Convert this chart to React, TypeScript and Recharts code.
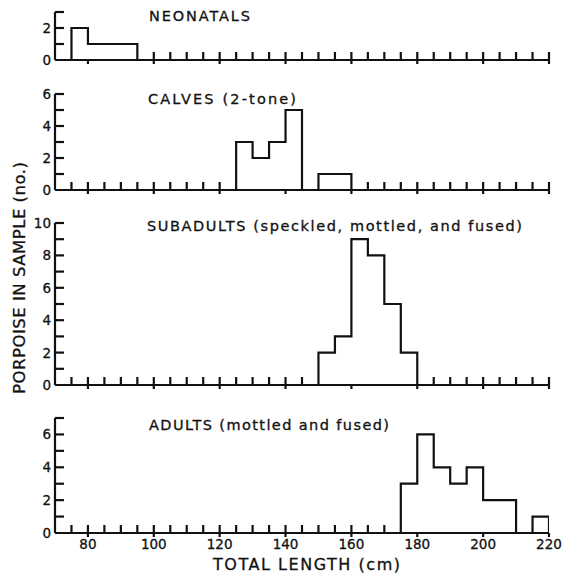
import React from "react";
import { ComposedChart, Line, XAxis, YAxis } from "recharts";

// bin edges (cm), 5 cm classes from 70 to 220
const LENGTH_EDGES = [
  70, 75, 80, 85, 90, 95, 100, 105, 110, 115, 120, 125, 130, 135, 140, 145,
  150, 155, 160, 165, 170, 175, 180, 185, 190, 195, 200, 205, 210, 215, 220,
];
const X_TICKS = [
  75, 80, 85, 90, 95, 100, 105, 110, 115, 120, 125, 130, 135, 140, 145, 150,
  155, 160, 165, 170, 175, 180, 185, 190, 195, 200, 205, 210, 215, 220,
];

// counts per 5 cm class (70-75, 75-80, ... 215-220)
const NEONATALS = [
  0, 2, 1, 1, 1, 0, 0, 0, 0, 0, 0, 0, 0, 0, 0, 0, 0, 0, 0, 0, 0, 0, 0, 0, 0,
  0, 0, 0, 0, 0,
];
const CALVES = [
  0, 0, 0, 0, 0, 0, 0, 0, 0, 0, 0, 3, 2, 3, 5, 0, 1, 1, 0, 0, 0, 0, 0, 0, 0,
  0, 0, 0, 0, 0,
];
const SUBADULTS = [
  0, 0, 0, 0, 0, 0, 0, 0, 0, 0, 0, 0, 0, 0, 0, 0, 2, 3, 9, 8, 5, 2, 0, 0, 0,
  0, 0, 0, 0, 0,
];
const ADULTS = [
  0, 0, 0, 0, 0, 0, 0, 0, 0, 0, 0, 0, 0, 0, 0, 0, 0, 0, 0, 0, 0, 3, 6, 4, 3,
  4, 2, 2, 0, 1,
];

const NEONATAL_Y = [0, 1, 2, 3];
const CALF_Y = [0, 1, 2, 3, 4, 5, 6];
const SUBADULT_Y = [0, 1, 2, 3, 4, 5, 6, 7, 8, 9, 10];
const ADULT_Y = [0, 1, 2, 3, 4, 5, 6, 7];

const INK = "#111";
const FONT = "DejaVu Sans, sans-serif";
const SW = 2.2;

function XTick(props: any) {
  const { x, y, payload, counts, showLabels } = props;
  const v = payload.value as number;
  const idx = (v - 70) / 5;
  const covered = (counts[idx - 1] || 0) > 0 || (counts[idx] || 0) > 0;
  const major = v % 20 === 0;
  return (
    <g>
      {!covered && (
        <line x1={x} x2={x} y1={y} y2={y - 8} stroke={INK} strokeWidth={SW} />
      )}
      {major && (
        <line x1={x} x2={x} y1={y} y2={y + 4} stroke={INK} strokeWidth={SW} />
      )}
      {showLabels && major && (
        <text
          x={x}
          y={y + 16}
          textAnchor="middle"
          fontFamily={FONT}
          fontSize={13.5}
          fill={INK}
          stroke={INK}
          strokeWidth={0.3}
        >
          {v}
        </text>
      )}
    </g>
  );
}

function YTick(props: any) {
  const { x, y, payload } = props;
  const v = payload.value as number;
  return (
    <g>
      {v > 0 && (
        <line x1={x} x2={x + 9} y1={y} y2={y} stroke={INK} strokeWidth={SW} />
      )}
      {v % 2 === 0 && (
        <text
          x={x - 4}
          y={y + 5}
          textAnchor="end"
          fontFamily={FONT}
          fontSize={13.5}
          fill={INK}
          stroke={INK}
          strokeWidth={0.3}
        >
          {v}
        </text>
      )}
    </g>
  );
}

function Panel({
  counts,
  yMax,
  yTicks,
  plotTop,
  zero,
  showLabels,
}: {
  counts: number[];
  yMax: number;
  yTicks: number[];
  plotTop: number;
  zero: number;
  showLabels?: boolean;
}) {
  const data = LENGTH_EDGES.map((x, i) => ({
    x,
    n: i < counts.length ? counts[i] : 0,
  }));
  const marginTop = 10;
  const axisH = showLabels ? 26 : 12;
  const height = zero - plotTop + marginTop + axisH;
  return (
    <div style={{ position: "absolute", left: 0, top: plotTop - marginTop }}>
      <ComposedChart
        width={564}
        height={height}
        data={data}
        margin={{ top: marginTop, right: 15, bottom: 0, left: 0 }}
      >
        <XAxis
          dataKey="x"
          type="number"
          domain={[70, 220]}
          ticks={X_TICKS}
          interval={0}
          height={axisH}
          tickSize={0}
          tickMargin={0}
          tickLine={false}
          axisLine={{ stroke: INK, strokeWidth: SW }}
          tick={(p: any) => (
            <XTick {...p} counts={counts} showLabels={showLabels} />
          )}
          allowDataOverflow
        />
        <YAxis
          type="number"
          domain={[0, yMax]}
          ticks={yTicks}
          interval={0}
          width={55}
          tickSize={0}
          tickMargin={0}
          tickLine={false}
          axisLine={{ stroke: INK, strokeWidth: SW }}
          tick={(p: any) => <YTick {...p} />}
          allowDataOverflow
        />
        <Line
          type="stepAfter"
          dataKey="n"
          stroke={INK}
          strokeWidth={SW}
          dot={false}
          isAnimationActive={false}
        />
      </ComposedChart>
    </div>
  );
}

export default function App() {
  return (
    <div
      style={{
        position: "absolute",
        left: 0,
        top: 0,
        width: 564,
        height: 574,
        background: "#fff",
      }}
    >
      <Panel counts={NEONATALS} yMax={3} yTicks={NEONATAL_Y} plotTop={12} zero={60} />
      <Panel counts={CALVES} yMax={6} yTicks={CALF_Y} plotTop={94} zero={190} />
      <Panel counts={SUBADULTS} yMax={10} yTicks={SUBADULT_Y} plotTop={223} zero={385} />
      <Panel counts={ADULTS} yMax={7} yTicks={ADULT_Y} plotTop={418} zero={533} showLabels />

      <svg
        width={564}
        height={574}
        style={{ position: "absolute", left: 0, top: 0, pointerEvents: "none" }}
        fontFamily={FONT}
        fill={INK}
        stroke={INK}
        strokeWidth={0.3}
      >
        <text x={149} y={21} fontSize={14.5} textLength={101} lengthAdjust="spacing">
          NEONATALS
        </text>
        <text x={148} y={103.5} fontSize={14.5} textLength={148} lengthAdjust="spacing">
          CALVES (2-tone)
        </text>
        <text x={147} y={231} fontSize={14.5} textLength={375} lengthAdjust="spacing">
          SUBADULTS (speckled, mottled, and fused)
        </text>
        <text x={149} y={430} fontSize={14.5} textLength={240} lengthAdjust="spacing">
          ADULTS (mottled and fused)
        </text>
        <text x={213} y={569.5} fontSize={16} textLength={187} lengthAdjust="spacing">
          TOTAL LENGTH (cm)
        </text>
        <text
          x={0}
          y={0}
          fontSize={16.5}
          textAnchor="middle"
          textLength={232}
          lengthAdjust="spacing"
          transform="translate(25 278) rotate(-90)"
        >
          PORPOISE IN SAMPLE (no.)
        </text>
      </svg>
    </div>
  );
}
